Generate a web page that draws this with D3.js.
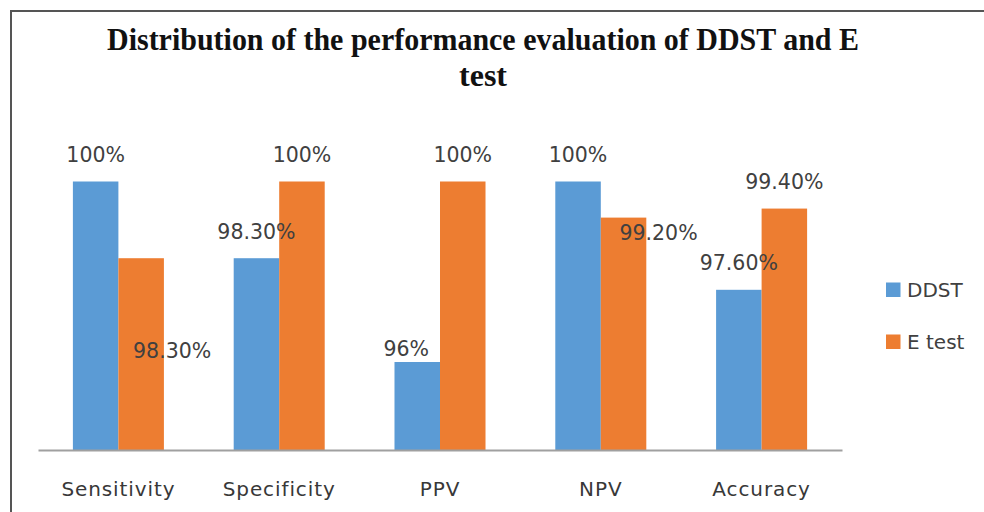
<!DOCTYPE html>
<html>
<head>
<meta charset="utf-8">
<script src="https://cdn.jsdelivr.net/npm/d3@7"></script>
<style>
  html, body { margin: 0; padding: 0; background: #fff; }
  svg { display: block; }
</style>
</head>
<body>
<div id="chart"></div>
<script>
// chart values
const categories = ['Sensitivity', 'Specificity', 'PPV', 'NPV', 'Accuracy'];
const seriesNames = ['DDST', 'E test'];
const ddstValues = [100, 98.3, 96, 100, 97.6];
const etestValues = [98.3, 100, 100, 99.2, 99.4];
const ddstLabels = ['100%', '98.30%', '96%', '100%', '97.60%'];
const etestLabels = ['98.30%', '100%', '100%', '99.20%', '99.40%'];

const colors = { 'DDST': '#5b9bd5', 'E test': '#ed7d31' };

// a few labels were dragged away from the bar top in the original
const labelNudge = {
    'Sensitivity|E test': { dx: 31, dy: 100 },
    'PPV|DDST': { dx: -11, dy: -6 },
    'NPV|E test': { dx: 35, dy: 22 }
};

const width = 984, height = 512;
const svg = d3.select('#chart').append('svg')
    .attr('width', width)
    .attr('height', height);

const rows = categories.map((c, i) => ({
    category: c,
    values: [
        { series: 'DDST', value: ddstValues[i], label: ddstLabels[i] },
        { series: 'E test', value: etestValues[i], label: etestLabels[i] }
    ]
}));

const x0 = d3.scaleBand()
    .domain(categories)
    .range([38, 842])
    .paddingInner(0.434)
    .paddingOuter(0.217);

const x1 = d3.scaleBand()
    .domain(seriesNames)
    .range([0, x0.bandwidth()])
    .padding(0);

const y = d3.scaleLinear()
    .domain([94.05, 100])
    .range([450, 181.5]);

// frame (open on the right and bottom, cropped)
svg.append('path')
    .attr('d', `M11,${height} L11,11 L${width},11`)
    .attr('fill', 'none')
    .attr('stroke', '#555')
    .attr('stroke-width', 2);

// title - condensed bold serif
const titleStyle = sel => sel
    .attr('text-anchor', 'middle')
    .attr('fill', '#111')
    .attr('font-family', '"Liberation Serif", "Times New Roman", serif')
    .attr('font-weight', 'bold')
    .attr('font-size', '32px');
svg.append('text').call(titleStyle)
    .attr('x', 483).attr('y', 50)
    .attr('textLength', 752)
    .attr('lengthAdjust', 'spacingAndGlyphs')
    .text('Distribution of the performance evaluation of DDST and E');
svg.append('text').call(titleStyle)
    .attr('x', 483).attr('y', 86)
    .text('test');

// bars
const groups = svg.append('g').selectAll('g')
    .data(rows)
    .join('g')
    .attr('transform', d => `translate(${x0(d.category)},0)`);

groups.selectAll('rect')
    .data(d => d.values)
    .join('rect')
    .attr('x', d => x1(d.series))
    .attr('y', d => y(d.value))
    .attr('width', x1.bandwidth())
    .attr('height', d => y.range()[0] - y(d.value))
    .attr('fill', d => colors[d.series]);

// data labels
groups.each(function(row) {
    d3.select(this).selectAll('text')
        .data(row.values)
        .join('text')
        .attr('text-anchor', 'middle')
        .attr('font-family', '"DejaVu Sans", sans-serif')
        .attr('font-size', '20.5px')
        .attr('fill', '#404040')
        .attr('x', d => {
            const n = labelNudge[row.category + '|' + d.series];
            return x1(d.series) + x1.bandwidth() / 2 + (n ? n.dx : 0);
        })
        .attr('y', d => {
            const n = labelNudge[row.category + '|' + d.series];
            return y(d.value) + (n ? n.dy : -19.5);
        })
        .text(d => d.label);
});

// x axis
const xAxis = svg.append('g')
    .attr('transform', `translate(0,${y.range()[0]})`)
    .call(d3.axisBottom(x0).tickSize(0).tickPadding(46).tickSizeOuter(0));
xAxis.select('.domain')
    .attr('stroke', '#a0a0a0')
    .attr('stroke-width', 2);
xAxis.selectAll('text')
    .attr('font-family', '"DejaVu Sans", sans-serif')
    .attr('font-size', '20px')
    .attr('letter-spacing', '0.9px')
    .attr('fill', '#383838')
    .attr('dy', 0);

// legend
const legend = svg.append('g').selectAll('g')
    .data(seriesNames)
    .join('g')
    .attr('transform', (d, i) => `translate(886,${282.5 + i * 52})`);
legend.append('rect')
    .attr('width', 14.5)
    .attr('height', 14.5)
    .attr('fill', d => colors[d]);
legend.append('text')
    .attr('x', 21)
    .attr('y', 14.5)
    .attr('font-family', '"DejaVu Sans", sans-serif')
    .attr('font-size', '20px')
    .attr('fill', '#404040')
    .text(d => d);
</script>
</body>
</html>
